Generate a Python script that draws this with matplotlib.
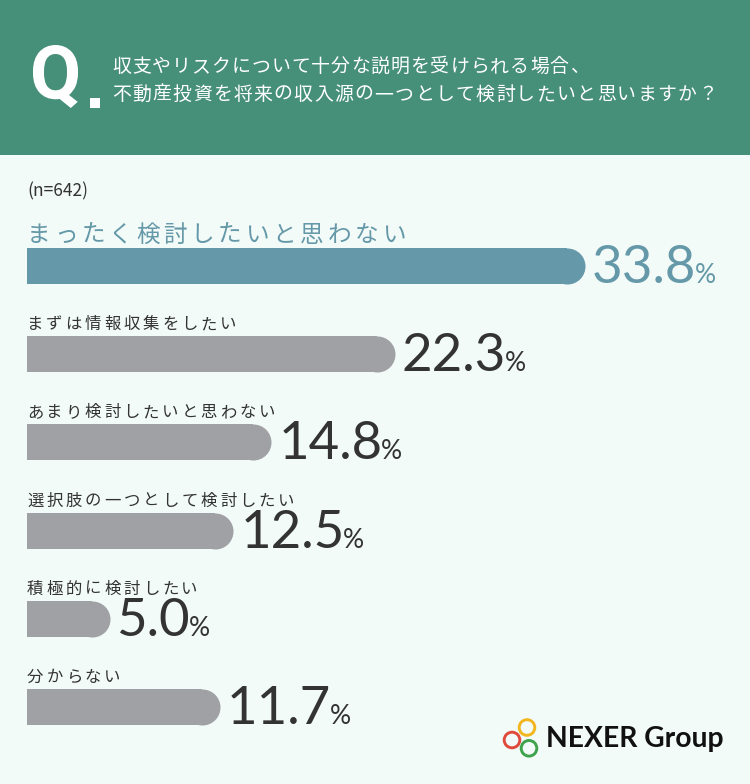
import matplotlib.pyplot as plt
from matplotlib.patches import Rectangle, Circle, PathPatch
from matplotlib.textpath import TextPath
from matplotlib.font_manager import FontProperties
from matplotlib.transforms import Affine2D

plt.rcParams['font.family'] = ['Noto Sans CJK JP', 'DejaVu Sans']

# datos
categories = ['まったく検討したいと思わない', 'まずは情報収集をしたい', 'あまり検討したいと思わない',
              '選択肢の一つとして検討したい', '積極的に検討したい', '分からない']
values = [33.8, 22.3, 14.8, 12.5, 5.0, 11.7]
question = ['収支やリスクについて十分な説明を受けられる場合、',
            '不動産投資を将来の収入源の一つとして検討したいと思いますか？']
sample = '(n=642)'

header_col = '#468f78'
bg_col = '#f2fbf8'
main_col = '#6598a8'
gray_col = '#a0a1a5'
text_col = '#333333'

W, H = 750, 784
px_per_pct = 16.5
left = 27
bar_h = 36

fig = plt.figure(figsize=(W / 100, H / 100), dpi=100)
fig.patch.set_facecolor(bg_col)

bg = fig.add_axes([0, 0, 1, 1])
bg.set_xlim(0, W)
bg.set_ylim(H, 0)
bg.axis('off')

# cabecera
bg.add_patch(Rectangle((0, 0), W, 155, color=header_col, lw=0))
fp = FontProperties(family='Roboto', weight='bold')
qp = TextPath((0, 0), 'Q', size=100, prop=fp)
ext = qp.get_extents()
tr = Affine2D().translate(-ext.x0, -ext.y0).scale(45 / ext.width, -63 / ext.height).translate(33, 108)
bg.add_patch(PathPatch(tr.transform_path(qp), color='white', lw=0))
bg.add_patch(Rectangle((90, 98), 9.5, 9.5, color='white', lw=0))


def spaced(ax, x, y, s, size, adv, color):
    for i, ch in enumerate(s):
        ax.text(x + i * adv, y, ch, fontsize=size, color=color, ha='left', va='baseline')


spaced(bg, 112, 72, question[0], 13.6, 19.9, 'white')
spaced(bg, 112, 100, question[1], 13.6, 20.2, 'white')

bg.text(left, 196, sample, fontsize=12.5, color=text_col, ha='left', va='baseline')

# barras
ax = fig.add_axes([left / W, 0, (W - left) / W, 1])
ax.set_xlim(0, (W - left) / px_per_pct)
ax.set_ylim(H, 0)
ax.axis('off')
ax.patch.set_alpha(0)

r = (bar_h / 2) / px_per_pct
ys = [266 + 88.2 * i for i in range(len(values))]
for i, (cat, v, y) in enumerate(zip(categories, values, ys)):
    col = main_col if i == 0 else gray_col
    ax.barh(y, v - r, height=bar_h, color=col, lw=0)
    ax.scatter([v - r], [y], s=(bar_h * 0.72) ** 2, color=col, lw=0, zorder=3)
    tcol = main_col if i == 0 else text_col
    base = y + bar_h / 2 - 1
    num = ax.annotate(f'{v:.1f}', xy=(v, base), xytext=(5, 0), textcoords='offset points',
                      fontsize=38, family='Lato', color=tcol, ha='left', va='baseline')
    ax.annotate('%', xy=(1, base), xycoords=(num, 'data'), xytext=(-1, 0), textcoords='offset points',
                fontsize=19, family='Lato', color=tcol, ha='left', va='baseline')
    if i == 0:
        spaced(bg, left, y - bar_h / 2 - 6, cat, 17, 27.3, main_col)
    else:
        spaced(bg, left, y - bar_h / 2 - 7, cat, 11.8, 19.3, text_col)

# logo
for (cx, cy), c in zip([(527, 727.5), (512, 740), (529, 748.3)], ['#f2b61f', '#e04a3c', '#3fa34d']):
    bg.add_patch(Circle((cx, cy), 7.8, fill=False, ec=c, lw=2.1))
bg.text(546, 747, 'NEXER Group', fontsize=20.3, family='Lato', weight='bold', color='#111111',
        ha='left', va='baseline')

fig.savefig('out.png', dpi=100, facecolor=bg_col)
